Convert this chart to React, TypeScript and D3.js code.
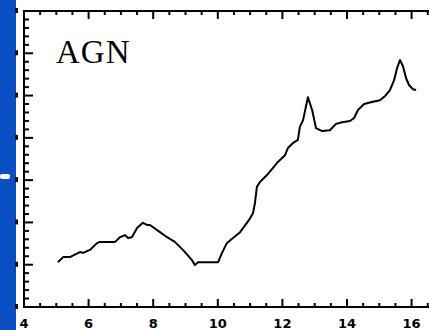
import React from "react";
import * as d3 from "d3";

// AGN light curve
const agnX = [5.05, 5.21, 5.42, 5.73, 5.83, 6.04, 6.26, 6.35, 6.82, 6.97, 7.13, 7.22, 7.34, 7.5, 7.68, 7.81, 7.9, 8.21, 8.43, 8.67, 8.92, 9.2, 9.29, 9.39, 10.01, 10.13, 10.28, 10.47, 10.69, 10.9, 11.0, 11.09, 11.15, 11.21, 11.31, 11.52, 11.71, 11.86, 12.08, 12.17, 12.33, 12.48, 12.54, 12.64, 12.79, 12.92, 13.04, 13.23, 13.47, 13.66, 13.85, 14.09, 14.22, 14.34, 14.53, 14.77, 15.02, 15.18, 15.33, 15.46, 15.55, 15.64, 15.73, 15.83, 15.92, 16.04, 16.14];
const agnY = [1.06, 1.18, 1.18, 1.3, 1.28, 1.35, 1.51, 1.54, 1.54, 1.65, 1.7, 1.63, 1.65, 1.87, 1.99, 1.94, 1.94, 1.77, 1.65, 1.54, 1.35, 1.11, 0.99, 1.06, 1.06, 1.28, 1.51, 1.63, 1.77, 1.99, 2.1, 2.22, 2.46, 2.84, 2.96, 3.12, 3.29, 3.43, 3.59, 3.76, 3.88, 3.95, 4.26, 4.42, 4.96, 4.66, 4.23, 4.16, 4.18, 4.33, 4.37, 4.4, 4.47, 4.66, 4.8, 4.85, 4.89, 4.99, 5.13, 5.37, 5.65, 5.84, 5.7, 5.41, 5.25, 5.15, 5.13];

const xTickLabels = [4, 6, 8, 10, 12, 14, 16];
const yMajorTicks = [0, 1, 2, 3, 4, 5, 6, 7];
const panelLabel = "AGN";

export default function App() {
  const W = 429;
  const H = 330;
  const left = 24;
  const top = 11;
  const bottom = 307;
  const right = 432;

  const x = d3.scaleLinear().domain([4, 16]).range([left, 411.6]);
  const y = d3.scaleLinear().domain([0, 7]).range([bottom, top]);

  const pts = agnX.map((v, i) => [v, agnY[i]] as [number, number]);
  const line = d3
    .line<[number, number]>()
    .x((d) => x(d[0]))
    .y((d) => y(d[1]));

  const xMinor = d3.range(4, 16.51, 0.5);
  const yMinor = d3.range(0, 7.01, 0.2);

  return (
    <svg
      width={W}
      height={H}
      style={{ position: "fixed", left: 0, top: 0, background: "#fff" }}
    >
      <rect x={0} y={0} width={W} height={H} fill="#fff" />

      {/* frame */}
      <rect
        x={left}
        y={top}
        width={right - left}
        height={bottom - top}
        fill="none"
        stroke="#000"
        strokeWidth={2}
      />

      {/* bottom and top ticks */}
      {xMinor.map((t) => {
        const major = Math.abs(t / 2 - Math.round(t / 2)) < 1e-6;
        const len = major ? 8 : 4;
        return (
          <g key={"xt" + t}>
            <line x1={x(t)} x2={x(t)} y1={bottom} y2={bottom - len} stroke="#000" strokeWidth={2} />
            <line x1={x(t)} x2={x(t)} y1={top} y2={top + len} stroke="#000" strokeWidth={2} />
          </g>
        );
      })}

      {/* left ticks */}
      {yMinor.map((t) => {
        const major = Math.abs(t - Math.round(t)) < 1e-6;
        const len = major ? 9 : 5;
        return (
          <line key={"yt" + t} x1={left} x2={left + len} y1={y(t)} y2={y(t)} stroke="#000" strokeWidth={2} />
        );
      })}

      {/* x tick labels */}
      {xTickLabels.map((t) => (
        <text
          key={"xl" + t}
          x={x(t)}
          y={328}
          textAnchor="middle"
          fontFamily="'DejaVu Sans', sans-serif"
          fontWeight="bold"
          fontSize={13}
          fill="#000"
        >
          {t}
        </text>
      ))}

      {/* side strip */}
      <rect x={0} y={0} width={16} height={H} fill="#0a4ec4" />
      {yMajorTicks.map((t) => (
        <rect key={"ym" + t} x={15} y={y(t) - 3} width={3} height={5} fill="#111" />
      ))}
      <rect x={0} y={174} width={10} height={5} rx={2} fill="#fff" />

      {/* light curve */}
      <path
        d={line(pts) || ""}
        fill="none"
        stroke="#000"
        strokeWidth={2}
        strokeLinejoin="round"
      />

      <text
        x={56}
        y={63}
        fontFamily="'Liberation Serif', serif"
        fontSize={33}
        letterSpacing={1}
        fill="#000"
      >
        {panelLabel}
      </text>
    </svg>
  );
}
